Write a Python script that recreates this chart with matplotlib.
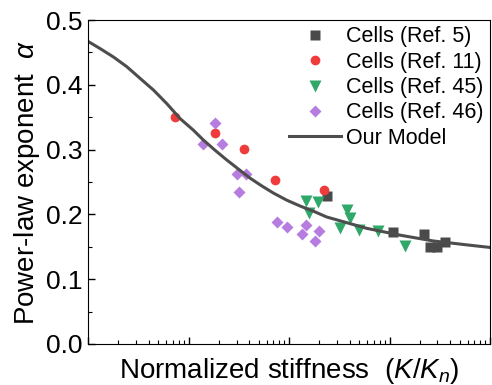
import matplotlib
matplotlib.use('Agg')
import matplotlib.pyplot as plt
from matplotlib.ticker import MultipleLocator, LogLocator, NullFormatter

plt.rcParams['font.family'] = ['Liberation Sans', 'DejaVu Sans']
plt.rcParams['mathtext.fontset'] = 'custom'
plt.rcParams['mathtext.rm'] = 'Liberation Sans'
plt.rcParams['mathtext.it'] = 'Liberation Sans:italic'

# data
ref5_x = [2.37, 10.8, 22.2, 25.1, 29.9, 35.4]
ref5_y = [0.229, 0.173, 0.170, 0.150, 0.150, 0.158]

ref11_x = [0.0735, 0.182, 0.354, 0.726, 2.23]
ref11_y = [0.351, 0.325, 0.301, 0.253, 0.237]

ref45_x = [1.47, 1.95, 1.57, 3.78, 4.07, 3.24, 5.01, 7.74, 14.3]
ref45_y = [0.221, 0.219, 0.202, 0.207, 0.194, 0.179, 0.176, 0.174, 0.152]

ref46_x = [0.182, 0.140, 0.215, 0.304, 0.371, 0.316, 0.766, 0.955, 1.35, 1.48, 1.82, 2.00]
ref46_y = [0.341, 0.309, 0.309, 0.262, 0.262, 0.235, 0.189, 0.180, 0.169, 0.183, 0.159, 0.174]

model_x = [0.01, 0.01315, 0.01786, 0.02427, 0.0329, 0.0447, 0.0607, 0.0822,
           0.1117, 0.140, 0.1835, 0.240, 0.313, 0.409, 0.535, 0.698, 0.948,
           1.285, 1.746, 2.37, 5.93, 12.7, 27.3, 58.6, 100]
model_y = [0.467, 0.456, 0.443, 0.428, 0.410, 0.392, 0.371, 0.348,
           0.330, 0.315, 0.299, 0.284, 0.270, 0.256, 0.244, 0.233, 0.222,
           0.213, 0.205, 0.196, 0.1785, 0.168, 0.159, 0.153, 0.149]

fig = plt.figure(figsize=(4.92, 3.85), dpi=100)
ax = fig.add_axes([0.179, 0.1065, 0.817, 0.8415])

ax.plot(ref5_x, ref5_y, 's', color='#4a4a4a', ms=6.5, mec='none', label='Cells (Ref. 5)')
ax.plot(ref11_x, ref11_y, 'o', color='#ef3b3b', ms=7, mec='none', label='Cells (Ref. 11)')
ax.plot(ref45_x, ref45_y, 'v', color='#2fa86a', ms=8, mec='none', label='Cells (Ref. 45)')
ax.plot(ref46_x, ref46_y, 'D', color='#b77ce0', ms=6.5, mec='none', label='Cells (Ref. 46)')
ax.plot(model_x, model_y, '-', color='#4d4d4d', lw=2.2, solid_joinstyle='round',
        label='Our Model')

ax.set_xscale('log')
ax.set_xlim(0.01, 100)
ax.set_ylim(0, 0.5)
ax.yaxis.set_major_locator(MultipleLocator(0.1))
ax.yaxis.set_minor_locator(MultipleLocator(0.05))
ax.xaxis.set_major_locator(LogLocator(base=10))
ax.xaxis.set_minor_locator(LogLocator(base=10, subs=range(2, 10)))
ax.xaxis.set_major_formatter(NullFormatter())
ax.xaxis.set_minor_formatter(NullFormatter())
ax.tick_params(which='both', direction='in', labelsize=19)
ax.tick_params(which='major', length=5, width=1, pad=4)
ax.tick_params(which='minor', length=3, width=0.8)

ax.set_xlabel(r'Normalized stiffness  $(K/K_n)$', fontsize=20, labelpad=5)
ax.set_ylabel(r'Power-law exponent  $\alpha$', fontsize=20, labelpad=3)

ax.legend(loc='upper right', frameon=False, fontsize=15.5, handlelength=2.4,
          handletextpad=0.25, labelspacing=0.2, borderpad=0.3, borderaxespad=0.0)

fig.savefig('out.png', dpi=100)
